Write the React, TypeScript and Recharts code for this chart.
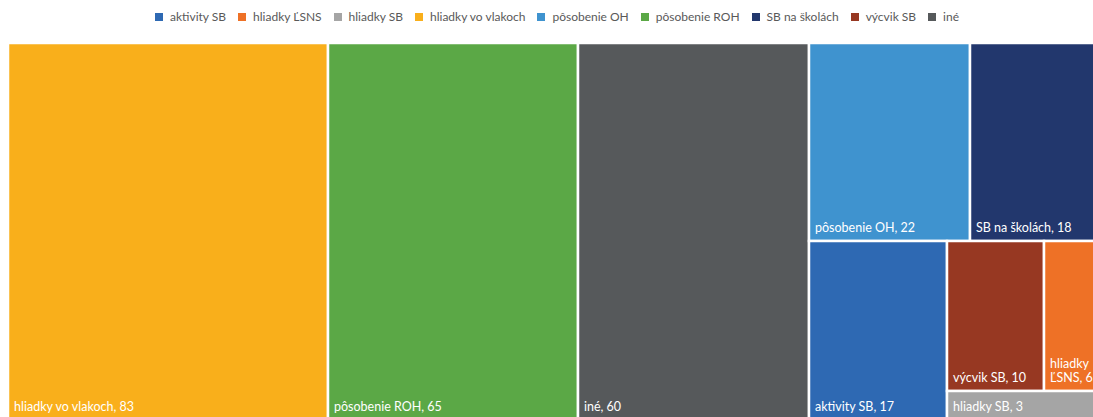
import React from "react";
import { Treemap } from "recharts";

// legend order (alphabetical, as in the source)
const categories = [
  "aktivity SB",
  "hliadky ĽSNS",
  "hliadky SB",
  "hliadky vo vlakoch",
  "pôsobenie OH",
  "pôsobenie ROH",
  "SB na školách",
  "výcvik SB",
  "iné",
];
const counts = [17, 6, 3, 83, 22, 65, 18, 10, 60];
const colors = [
  "#2E69B3",
  "#EE7126",
  "#A5A5A5",
  "#F9AF1B",
  "#3F93CF",
  "#5BA846",
  "#22376D",
  "#973822",
  "#56595B",
];

const colorOf = (name: string) => colors[categories.indexOf(name)] ?? "#ccc";

// biggest tiles first, like Excel does
const treeData = categories
  .map((name, i) => ({ name, size: counts[i] }))
  .sort((a, b) => b.size - a.size);

const FONT = "Lato, 'Open Sans', sans-serif";
const LABEL_SIZE = 12.5;

const wrapLabel = (text: string, maxWidth: number, fontSize: number) => {
  const charW = fontSize * 0.46;
  if (text.length * charW <= maxWidth) return [text];
  const lines: string[] = [];
  let cur = "";
  text.split(" ").forEach((w) => {
    const next = cur ? cur + " " + w : w;
    if (cur && next.length * charW > maxWidth) {
      lines.push(cur);
      cur = w;
    } else {
      cur = next;
    }
  });
  if (cur) lines.push(cur);
  return lines;
};

const CellContent = (props: any) => {
  const { x, y, width, height, depth, name } = props;
  if (depth !== 1) return null;
  const val = props.size ?? props.value;
  const lines = wrapLabel(`${name}, ${val}`, width - 12, LABEL_SIZE);
  return (
    <g>
      <rect
        x={x}
        y={y}
        width={width}
        height={height}
        fill={colorOf(name)}
        stroke="#fff"
        strokeWidth={2.5}
      />
      {lines.map((line, i) => (
        <text
          key={i}
          x={x + 6}
          y={y + height - 9 - (lines.length - 1 - i) * 14}
          fill="#fff"
          stroke="none"
          fontSize={LABEL_SIZE}
          fontFamily={FONT}
        >
          {line}
        </text>
      ))}
    </g>
  );
};

export default function App() {
  return (
    <div
      style={{
        position: "fixed",
        left: 0,
        top: 0,
        width: 1093,
        height: 417,
        overflow: "hidden",
        background: "#fff",
      }}
    >
      <div
        style={{
          position: "absolute",
          top: 9,
          left: 0,
          width: 1114,
          display: "flex",
          justifyContent: "center",
          gap: 12,
          fontFamily: FONT,
          fontSize: 12,
          color: "#595959",
          lineHeight: "16px",
        }}
      >
        {categories.map((c, i) => (
          <div key={c} style={{ display: "flex", alignItems: "center" }}>
            <span
              style={{
                display: "inline-block",
                width: 8,
                height: 8,
                background: colors[i],
                marginRight: 7,
              }}
            />
            <span>{c}</span>
          </div>
        ))}
      </div>
      <div style={{ position: "absolute", left: 8, top: 43 }}>
        <Treemap
          width={1094}
          height={377}
          data={treeData}
          dataKey="size"
          nameKey="name"
          aspectRatio={1.29}
          isAnimationActive={false}
          content={<CellContent />}
        />
      </div>
    </div>
  );
}
